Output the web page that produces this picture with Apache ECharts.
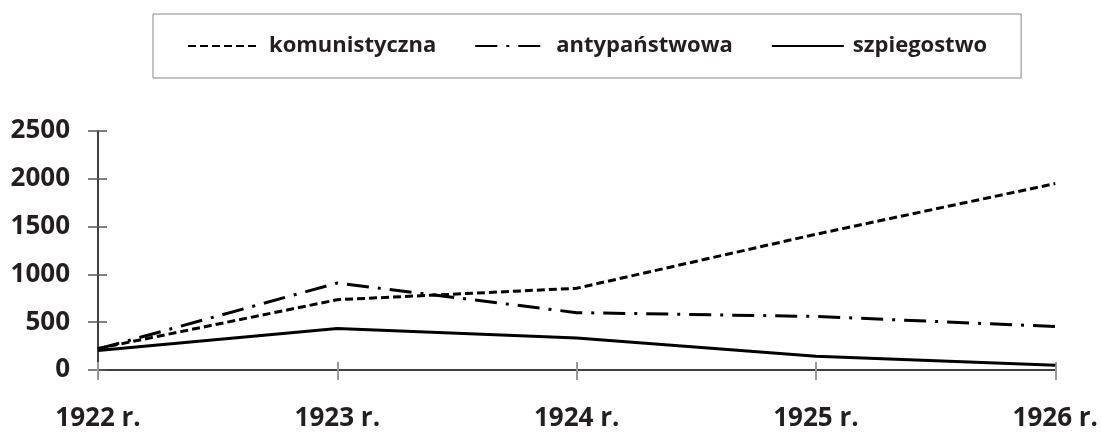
<!DOCTYPE html>
<html>
<head>
<meta charset="utf-8">
<script src="https://cdn.jsdelivr.net/npm/echarts@6/dist/echarts.min.js"></script>
<style>
  html, body { margin: 0; padding: 0; background: #fff; }
  #chart { width: 1101px; height: 432px; }
</style>
</head>
<body>
<div id="chart"></div>
<script>
const years = ['1922 r.', '1923 r.', '1924 r.', '1925 r.', '1926 r.'];
const komunistyczna = [225, 735, 855, 1420, 1950];
const antypanstwowa = [220, 910, 600, 560, 455];
const szpiegostwo = [205, 435, 335, 145, 50];

const FONT = 'Open Sans';
const INK = '#231f20';

const chart = echarts.init(document.getElementById('chart'));

function lineSeries(name, data, type) {
  return {
    name: name,
    type: 'line',
    data: data,
    symbol: 'none',
    smooth: false,
    lineStyle: { color: '#000', width: 3, type: type },
    itemStyle: { color: '#000' },
    emphasis: { disabled: true }
  };
}

// the reference ticks cross the axis: one axis draws them outside, a twin draws them inside
const yBase = { type: 'value', min: 0, max: 2500, interval: 500, splitLine: { show: false } };
const xBase = { type: 'category', data: years, boundaryGap: false, splitLine: { show: false } };

chart.setOption({
  animation: false,
  legend: {
    left: 153,
    top: 14,
    padding: [21, 34, 21, 34],
    borderColor: '#888',
    borderWidth: 1,
    itemWidth: 72,
    itemHeight: 20,
    itemGap: 38,
    itemStyle: { opacity: 0 },
    textStyle: { fontFamily: FONT, fontWeight: 'bold', fontSize: 22, color: INK, padding: [0, 0, 0, 4] },
    data: ['komunistyczna', 'antypaństwowa', 'szpiegostwo']
  },
  grid: { left: 98, right: 43, top: 131, bottom: 60, containLabel: false },
  xAxis: [
    Object.assign({}, xBase, {
      axisLine: { lineStyle: { color: '#000', width: 1.5 } },
      axisTick: { show: true, length: 10, lineStyle: { color: '#999', width: 2 } },
      axisLabel: { fontFamily: FONT, fontWeight: 'bold', fontSize: 26, color: INK, margin: 36 }
    }),
    Object.assign({}, xBase, {
      position: 'bottom',
      axisLine: { show: false },
      axisTick: { show: true, inside: true, length: 8, lineStyle: { color: '#999', width: 2 } },
      axisLabel: { show: false }
    })
  ],
  yAxis: [
    Object.assign({}, yBase, {
      axisLine: { show: true, lineStyle: { color: '#000', width: 1.5 } },
      axisTick: { show: true, length: 10, lineStyle: { color: '#555', width: 1.5 } },
      axisLabel: { fontFamily: FONT, fontWeight: 'bold', fontSize: 26, color: INK, margin: 28, formatter: v => String(v) }
    }),
    Object.assign({}, yBase, {
      position: 'left',
      axisLine: { show: false },
      axisTick: { show: true, inside: true, length: 9, lineStyle: { color: '#555', width: 1.5 } },
      axisLabel: { show: false }
    })
  ],
  series: [
    lineSeries('komunistyczna', komunistyczna, [8, 4]),
    lineSeries('antypaństwowa', antypanstwowa, [22, 9, 3, 9]),
    lineSeries('szpiegostwo', szpiegostwo, 'solid')
  ]
});
</script>
</body>
</html>
